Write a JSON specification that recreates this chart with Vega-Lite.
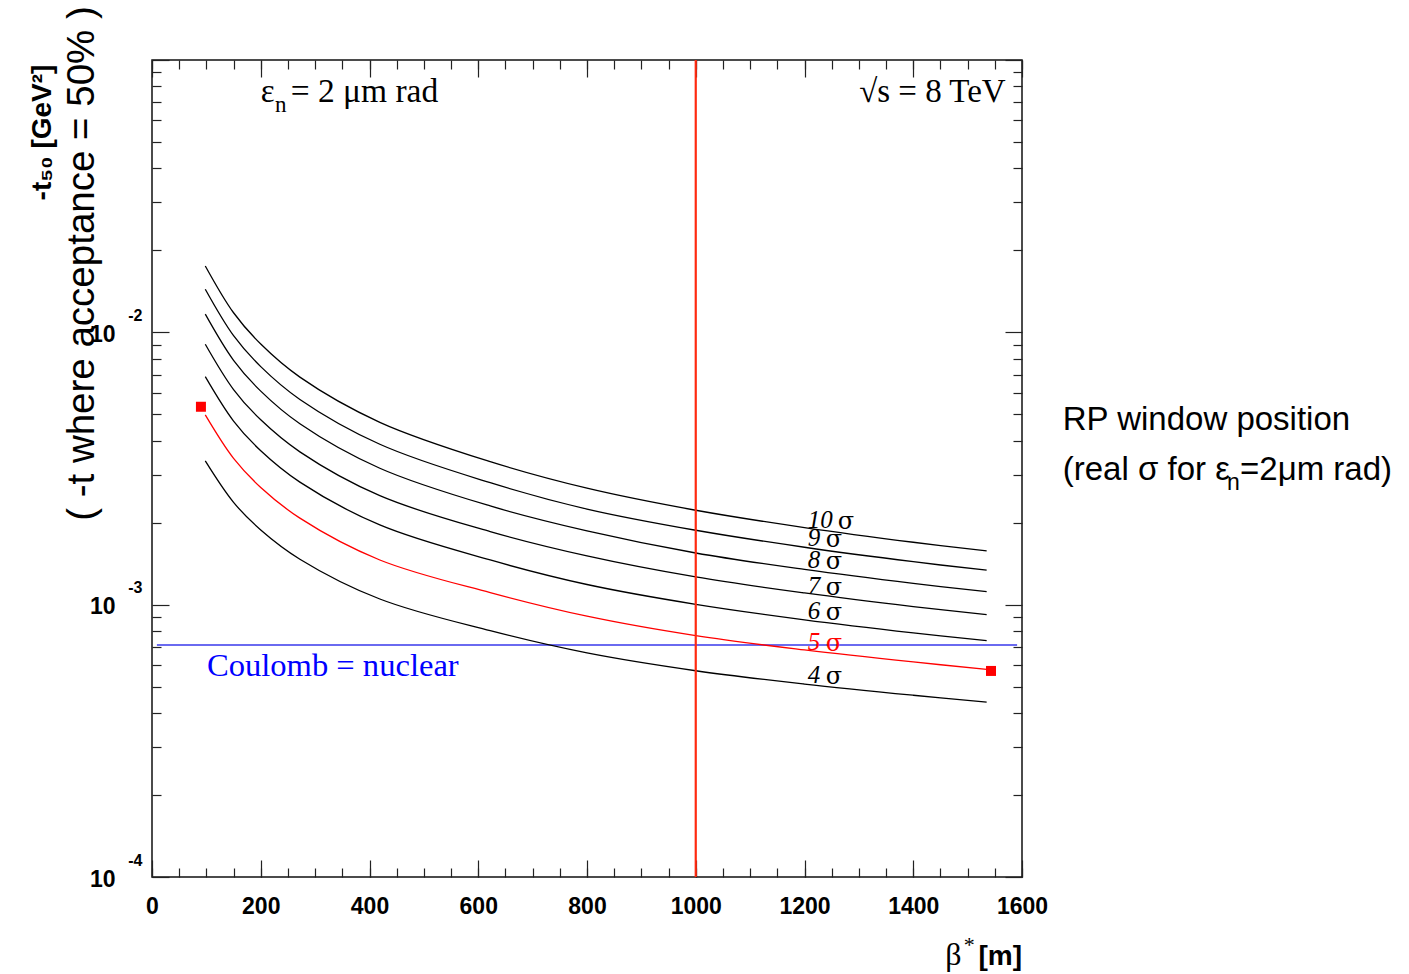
{
  "$schema": "https://vega.github.io/schema/vega-lite/v6.json",
  "width": 870,
  "height": 817,
  "autosize": {"type": "none"},
  "padding": {"left": 152, "top": 60, "right": 387, "bottom": 97},
  "background": "white",
  "config": {
    "view": {"stroke": "#111111", "strokeWidth": 1.5},
    "axis": {"domain": false, "grid": false, "tickColor": "#222222", "tickWidth": 1.2, "labelColor": "black", "titleColor": "black", "labelFont": "Liberation Sans", "titleFont": "Liberation Sans"}
  },
  "datasets": {
    "curves": [
      {"beta": 98, "t": 0.01753, "curve": "10"}, {"beta": 150, "t": 0.0118, "curve": "10"}, {"beta": 200, "t": 0.009057, "curve": "10"}, {"beta": 272, "t": 0.006848, "curve": "10"}, {"beta": 419, "t": 0.004674, "curve": "10"}, {"beta": 622, "t": 0.003351, "curve": "10"}, {"beta": 800, "t": 0.002678, "curve": "10"}, {"beta": 1000, "t": 0.002222, "curve": "10"}, {"beta": 1200, "t": 0.001919, "curve": "10"}, {"beta": 1400, "t": 0.001695, "curve": "10"}, {"beta": 1535, "t": 0.001575, "curve": "10"},
      {"beta": 98, "t": 0.0144, "curve": "9"}, {"beta": 150, "t": 0.009725, "curve": "9"}, {"beta": 200, "t": 0.007483, "curve": "9"}, {"beta": 272, "t": 0.00567, "curve": "9"}, {"beta": 419, "t": 0.003882, "curve": "9"}, {"beta": 622, "t": 0.002805, "curve": "9"}, {"beta": 800, "t": 0.002244, "curve": "9"}, {"beta": 1000, "t": 0.001876, "curve": "9"}, {"beta": 1200, "t": 0.001625, "curve": "9"}, {"beta": 1400, "t": 0.001438, "curve": "9"}, {"beta": 1535, "t": 0.001338, "curve": "9"},
      {"beta": 98, "t": 0.01166, "curve": "8"}, {"beta": 150, "t": 0.007892, "curve": "8"}, {"beta": 200, "t": 0.006083, "curve": "8"}, {"beta": 272, "t": 0.004616, "curve": "8"}, {"beta": 419, "t": 0.003169, "curve": "8"}, {"beta": 622, "t": 0.002304, "curve": "8"}, {"beta": 800, "t": 0.001866, "curve": "8"}, {"beta": 1000, "t": 0.001548, "curve": "8"}, {"beta": 1200, "t": 0.001347, "curve": "8"}, {"beta": 1400, "t": 0.001197, "curve": "8"}, {"beta": 1535, "t": 0.001116, "curve": "8"},
      {"beta": 98, "t": 0.009043, "curve": "7"}, {"beta": 150, "t": 0.006165, "curve": "7"}, {"beta": 200, "t": 0.004772, "curve": "7"}, {"beta": 272, "t": 0.00364, "curve": "7"}, {"beta": 419, "t": 0.002513, "curve": "7"}, {"beta": 622, "t": 0.001854, "curve": "7"}, {"beta": 800, "t": 0.00151, "curve": "7"}, {"beta": 1000, "t": 0.001264, "curve": "7"}, {"beta": 1200, "t": 0.001104, "curve": "7"}, {"beta": 1400, "t": 0.000984, "curve": "7"}, {"beta": 1535, "t": 0.000919, "curve": "7"},
      {"beta": 98, "t": 0.006877, "curve": "6"}, {"beta": 150, "t": 0.004724, "curve": "6"}, {"beta": 200, "t": 0.003674, "curve": "6"}, {"beta": 272, "t": 0.002818, "curve": "6"}, {"beta": 419, "t": 0.001962, "curve": "6"}, {"beta": 622, "t": 0.001459, "curve": "6"}, {"beta": 800, "t": 0.001186, "curve": "6"}, {"beta": 1000, "t": 0.001003, "curve": "6"}, {"beta": 1200, "t": 0.00088, "curve": "6"}, {"beta": 1400, "t": 0.000788, "curve": "6"}, {"beta": 1535, "t": 0.0007375, "curve": "6"},
      {"beta": 98, "t": 0.004973, "curve": "5"}, {"beta": 150, "t": 0.003443, "curve": "5"}, {"beta": 200, "t": 0.002694, "curve": "5"}, {"beta": 272, "t": 0.002078, "curve": "5"}, {"beta": 419, "t": 0.001459, "curve": "5"}, {"beta": 622, "t": 0.001107, "curve": "5"}, {"beta": 800, "t": 0.000907, "curve": "5"}, {"beta": 1000, "t": 0.0007694, "curve": "5"}, {"beta": 1200, "t": 0.000682, "curve": "5"}, {"beta": 1400, "t": 0.000616, "curve": "5"}, {"beta": 1535, "t": 0.000579, "curve": "5"},
      {"beta": 98, "t": 0.003371, "curve": "4"}, {"beta": 150, "t": 0.002375, "curve": "4"}, {"beta": 200, "t": 0.001881, "curve": "4"}, {"beta": 272, "t": 0.001469, "curve": "4"}, {"beta": 419, "t": 0.001049, "curve": "4"}, {"beta": 622, "t": 0.0008025, "curve": "4"}, {"beta": 800, "t": 0.000665, "curve": "4"}, {"beta": 1000, "t": 0.000572, "curve": "4"}, {"beta": 1200, "t": 0.000511, "curve": "4"}, {"beta": 1400, "t": 0.000465, "curve": "4"}, {"beta": 1535, "t": 0.000439, "curve": "4"}
    ],
    "labels": [
      {"beta": 1206, "sbeta": 1261, "t": 0.002047, "label": "10", "curve": "10"},
      {"beta": 1206, "sbeta": 1239, "t": 0.001753, "label": "9", "curve": "9"},
      {"beta": 1206, "sbeta": 1239, "t": 0.001459, "label": "8", "curve": "8"},
      {"beta": 1206, "sbeta": 1239, "t": 0.001171, "label": "7", "curve": "7"},
      {"beta": 1206, "sbeta": 1239, "t": 0.000948, "label": "6", "curve": "6"},
      {"beta": 1206, "sbeta": 1239, "t": 0.000731, "label": "5", "curve": "5"},
      {"beta": 1206, "sbeta": 1239, "t": 0.000552, "label": "4", "curve": "4"}
    ],
    "squares": [{"beta": 90, "t": 0.00533}, {"beta": 1543, "t": 0.000571}],
    "coulomb": [{"beta_start": 9, "beta_end": 1591, "t": 0.000711}],
    "window": [{"beta": 1000}]
  },
  "layer": [
    {
      "data": {"name": "coulomb"},
      "mark": {"type": "rule", "color": "#6a6af0", "strokeWidth": 2},
      "encoding": {
        "x": {"field": "beta_start", "type": "quantitative", "scale": {"domain": [0, 1600], "nice": false, "zero": false},
          "axis": {"orient": "bottom", "values": [0,50,100,150,200,250,300,350,400,450,500,550,600,650,700,750,800,850,900,950,1000,1050,1100,1150,1200,1250,1300,1350,1400,1450,1500,1550,1600], "labels": false, "tickSize": -9, "title": null}},
        "x2": {"field": "beta_end"},
        "y": {"field": "t", "type": "quantitative", "scale": {"type": "log", "domain": [0.0001, 0.1], "nice": false},
          "axis": {"orient": "left", "values": [0.0002,0.0003,0.0004,0.0005,0.0006,0.0007,0.0008,0.0009,0.002,0.003,0.004,0.005,0.006,0.007,0.008,0.009,0.02,0.03,0.04,0.05,0.06,0.07,0.08,0.09], "labels": false, "tickSize": -9, "title": null}}
      }
    },
    {
      "data": {"name": "curves"},
      "mark": {"type": "line", "interpolate": "catmull-rom", "strokeWidth": 1.3},
      "encoding": {
        "x": {"field": "beta", "type": "quantitative", "scale": {"domain": [0, 1600], "nice": false, "zero": false},
          "axis": {"orient": "bottom", "values": [0,200,400,600,800,1000,1200,1400,1600], "format": "d", "ticks": false, "tickSize": 0, "labelFontSize": 23, "labelFontWeight": "bold", "labelPadding": 18, "labelFlush": false, "labelOverlap": false, "title": null}},
        "y": {"field": "t", "type": "quantitative", "scale": {"type": "log", "domain": [0.0001, 0.1], "nice": false},
          "axis": {"orient": "left", "values": [0.0001, 0.001, 0.01], "labelExpr": "'10'", "ticks": false, "tickSize": 0, "labelFontSize": 23, "labelFontWeight": "bold", "labelPadding": 37, "labelOffset": 2, "labelFlush": false, "labelOverlap": false, "labelBaseline": "middle",
            "title": "( -t where acceptance = 50% )", "titleFontSize": 38.5, "titleFontWeight": "normal", "titleAngle": 270, "titleX": -59, "titleY": 203, "titleAlign": "center", "titleBaseline": "alphabetic"}},
        "color": {"field": "curve", "type": "nominal", "scale": {"domain": ["4","5","6","7","8","9","10"], "range": ["#000000","#ff0000","#000000","#000000","#000000","#000000","#000000"]}, "legend": null}
      }
    },
    {
      "data": {"name": "window"},
      "mark": {"type": "rule", "color": "#ff2a10", "strokeWidth": 2.2},
      "encoding": {
        "x": {"field": "beta", "type": "quantitative", "scale": {"domain": [0, 1600], "nice": false, "zero": false},
          "axis": {"orient": "top", "values": [0,50,100,150,200,250,300,350,400,450,500,550,600,650,700,750,800,850,900,950,1000,1050,1100,1150,1200,1250,1300,1350,1400,1450,1500,1550,1600], "labels": false, "tickSize": -9, "title": null}}
      }
    },
    {
      "data": {"name": "squares"},
      "mark": {"type": "square", "size": 100, "color": "#ff0000", "opacity": 1, "filled": true},
      "encoding": {
        "x": {"field": "beta", "type": "quantitative", "scale": {"domain": [0, 1600], "nice": false, "zero": false},
          "axis": {"orient": "top", "values": [0,200,400,600,800,1000,1200,1400,1600], "labels": false, "tickSize": -17, "title": null}},
        "y": {"field": "t", "type": "quantitative", "scale": {"type": "log", "domain": [0.0001, 0.1], "nice": false},
          "axis": {"orient": "left", "values": [0.0001, 0.001, 0.01, 0.1], "labels": false, "tickSize": -17, "title": null}}
      }
    },
    {
      "data": {"name": "labels"},
      "mark": {"type": "text", "font": "Liberation Serif", "fontStyle": "italic", "fontSize": 25, "align": "left", "baseline": "middle"},
      "encoding": {
        "x": {"field": "beta", "type": "quantitative", "scale": {"domain": [0, 1600], "nice": false, "zero": false},
          "axis": {"orient": "bottom", "values": [0,200,400,600,800,1000,1200,1400,1600], "labels": false, "tickSize": -17, "title": null}},
        "y": {"field": "t", "type": "quantitative", "scale": {"type": "log", "domain": [0.0001, 0.1], "nice": false},
          "axis": {"orient": "left", "values": [0.0001, 0.001, 0.01], "labelExpr": "'' + round(log(datum.value) / LN10)", "ticks": false, "tickSize": 0, "labelFontSize": 16, "labelFontWeight": "bold", "labelPadding": 10, "labelOffset": -17, "labelFlush": false, "labelOverlap": false, "labelBaseline": "middle",
            "title": "-t₅₀ [GeV²]", "titleFontSize": 28, "titleFontWeight": "bold", "titleAngle": 270, "titleX": -102, "titleY": 72, "titleAlign": "center", "titleBaseline": "alphabetic"}},
        "text": {"field": "label"},
        "color": {"field": "curve", "type": "nominal", "scale": {"domain": ["4","5","6","7","8","9","10"], "range": ["#000000","#ff0000","#000000","#000000","#000000","#000000","#000000"]}, "legend": null}
      }
    },
    {
      "data": {"name": "labels"},
      "mark": {"type": "text", "font": "DejaVu Serif", "fontSize": 24, "align": "left", "baseline": "middle", "dy": 2},
      "encoding": {
        "x": {"field": "sbeta", "type": "quantitative", "scale": {"domain": [0, 1600], "nice": false, "zero": false}, "axis": null},
        "y": {"field": "t", "type": "quantitative", "scale": {"type": "log", "domain": [0.0001, 0.1], "nice": false},
          "axis": {"orient": "right", "values": [0.0001, 0.001, 0.01, 0.1], "labels": false, "tickSize": -17, "title": null}},
        "text": {"value": "σ"},
        "color": {"field": "curve", "type": "nominal", "scale": {"domain": ["4","5","6","7","8","9","10"], "range": ["#000000","#ff0000","#000000","#000000","#000000","#000000","#000000"]}, "legend": null}
      }
    },
    {
      "data": {"values": [{"beta": 200, "t": 0.07036, "text": "ε"}]},
      "mark": {"type": "text", "font": "Liberation Serif", "fontSize": 33, "align": "left", "baseline": "alphabetic", "color": "black"},
      "encoding": {
        "x": {"field": "beta", "type": "quantitative", "scale": {"domain": [0, 1600], "nice": false, "zero": false}, "axis": null},
        "y": {"field": "t", "type": "quantitative", "scale": {"type": "log", "domain": [0.0001, 0.1], "nice": false},
          "axis": {"orient": "right", "values": [0.0002,0.0003,0.0004,0.0005,0.0006,0.0007,0.0008,0.0009,0.002,0.003,0.004,0.005,0.006,0.007,0.008,0.009,0.02,0.03,0.04,0.05,0.06,0.07,0.08,0.09], "labels": false, "tickSize": -9, "title": null}},
        "text": {"field": "text"}
      }
    },
    {
      "data": {"values": [{"beta": 226, "t": 0.0645, "text": "n"}]},
      "mark": {"type": "text", "font": "Liberation Serif", "fontSize": 23, "align": "left", "baseline": "alphabetic", "color": "black"},
      "encoding": {
        "x": {"field": "beta", "type": "quantitative", "scale": {"domain": [0, 1600], "nice": false, "zero": false}, "axis": null},
        "y": {"field": "t", "type": "quantitative", "scale": {"type": "log", "domain": [0.0001, 0.1], "nice": false}, "axis": null},
        "text": {"field": "text"}
      }
    },
    {
      "data": {"values": [{"beta": 255, "t": 0.07036, "text": "= 2 μm rad"}]},
      "mark": {"type": "text", "font": "Liberation Serif", "fontSize": 33.5, "align": "left", "baseline": "alphabetic", "color": "black"},
      "encoding": {
        "x": {"field": "beta", "type": "quantitative", "scale": {"domain": [0, 1600], "nice": false, "zero": false}, "axis": null},
        "y": {"field": "t", "type": "quantitative", "scale": {"type": "log", "domain": [0.0001, 0.1], "nice": false}, "axis": null},
        "text": {"field": "text"}
      }
    },
    {
      "data": {"values": [{"beta": 1570, "t": 0.07036, "text": "√s = 8 TeV"}]},
      "mark": {"type": "text", "font": "Liberation Serif", "fontSize": 33, "align": "right", "baseline": "alphabetic", "color": "black"},
      "encoding": {
        "x": {"field": "beta", "type": "quantitative", "scale": {"domain": [0, 1600], "nice": false, "zero": false}, "axis": null},
        "y": {"field": "t", "type": "quantitative", "scale": {"type": "log", "domain": [0.0001, 0.1], "nice": false}, "axis": null},
        "text": {"field": "text"}
      }
    },
    {
      "data": {"values": [{"beta": 101, "t": 0.000547, "text": "Coulomb = nuclear"}]},
      "mark": {"type": "text", "font": "Liberation Serif", "fontSize": 32.6, "align": "left", "baseline": "alphabetic", "color": "#0000ff"},
      "encoding": {
        "x": {"field": "beta", "type": "quantitative", "scale": {"domain": [0, 1600], "nice": false, "zero": false}, "axis": null},
        "y": {"field": "t", "type": "quantitative", "scale": {"type": "log", "domain": [0.0001, 0.1], "nice": false}, "axis": null},
        "text": {"field": "text"}
      }
    },
    {
      "data": {"values": [{"beta": 1675, "t": 0.004382, "text": "RP window position"}, {"beta": 1675, "t": 0.002871, "text": "(real σ for ε"}, {"beta": 2001, "t": 0.002871, "text": "=2μm rad)"}]},
      "mark": {"type": "text", "font": "Liberation Sans", "fontSize": 33, "align": "left", "baseline": "alphabetic", "color": "black"},
      "encoding": {
        "x": {"field": "beta", "type": "quantitative", "scale": {"domain": [0, 1600], "nice": false, "zero": false}, "axis": null},
        "y": {"field": "t", "type": "quantitative", "scale": {"type": "log", "domain": [0.0001, 0.1], "nice": false}, "axis": null},
        "text": {"field": "text"}
      }
    },
    {
      "data": {"values": [{"beta": 1977, "t": 0.002637, "text": "n"}]},
      "mark": {"type": "text", "font": "Liberation Sans", "fontSize": 23, "align": "left", "baseline": "alphabetic", "color": "black"},
      "encoding": {
        "x": {"field": "beta", "type": "quantitative", "scale": {"domain": [0, 1600], "nice": false, "zero": false}, "axis": null},
        "y": {"field": "t", "type": "quantitative", "scale": {"type": "log", "domain": [0.0001, 0.1], "nice": false}, "axis": null},
        "text": {"field": "text"}
      }
    },
    {
      "data": {"values": [{"beta": 1489, "t": 0.0000475, "text": "β"}]},
      "mark": {"type": "text", "font": "Liberation Serif", "fontSize": 32, "align": "right", "baseline": "alphabetic", "color": "black"},
      "encoding": {
        "x": {"field": "beta", "type": "quantitative", "scale": {"domain": [0, 1600], "nice": false, "zero": false}, "axis": null},
        "y": {"field": "t", "type": "quantitative", "scale": {"type": "log", "domain": [0.0001, 0.1], "nice": false}, "axis": null},
        "text": {"field": "text"}
      }
    },
    {
      "data": {"values": [{"beta": 1493, "t": 0.00005303, "text": "*"}]},
      "mark": {"type": "text", "font": "Liberation Serif", "fontSize": 22, "align": "left", "baseline": "alphabetic", "color": "black"},
      "encoding": {
        "x": {"field": "beta", "type": "quantitative", "scale": {"domain": [0, 1600], "nice": false, "zero": false}, "axis": null},
        "y": {"field": "t", "type": "quantitative", "scale": {"type": "log", "domain": [0.0001, 0.1], "nice": false}, "axis": null},
        "text": {"field": "text"}
      }
    },
    {
      "data": {"values": [{"beta": 1600, "t": 0.0000475, "text": "[m]"}]},
      "mark": {"type": "text", "font": "Liberation Sans", "fontWeight": "bold", "fontSize": 28, "align": "right", "baseline": "alphabetic", "color": "black"},
      "encoding": {
        "x": {"field": "beta", "type": "quantitative", "scale": {"domain": [0, 1600], "nice": false, "zero": false}, "axis": null},
        "y": {"field": "t", "type": "quantitative", "scale": {"type": "log", "domain": [0.0001, 0.1], "nice": false}, "axis": null},
        "text": {"field": "text"}
      }
    }
  ],
  "resolve": {"axis": {"x": "independent", "y": "independent"}}
}
